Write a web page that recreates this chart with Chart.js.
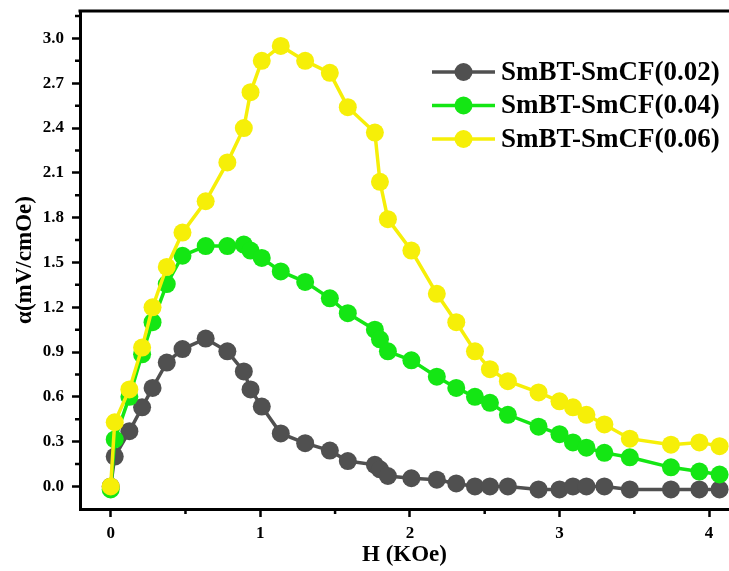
<!DOCTYPE html>
<html>
<head>
<meta charset="utf-8">
<title>ME coefficient vs H</title>
<script src="https://cdn.jsdelivr.net/npm/chart.js@4.4.0/dist/chart.umd.min.js"></script>
<style>
  html, body { margin: 0; padding: 0; background: #fff; }
  #chart { display: block; }
</style>
</head>
<body>
<canvas id="chart" width="729" height="571"></canvas>
<script>
// Field values (KOe), shared by all three samples
const H = [0, 0.027, 0.125, 0.21, 0.28, 0.375, 0.48, 0.635, 0.78, 0.89, 0.935, 1.01, 1.137, 1.30,
  1.465, 1.585, 1.766, 1.80, 1.853, 2.01, 2.18, 2.31, 2.435, 2.535, 2.655, 2.86, 3.0, 3.09,
  3.18, 3.30, 3.47, 3.745, 3.935, 4.07];

// alpha (mV/cmOe) for each sample
const alpha002 = [0, 0.20, 0.37, 0.53, 0.66, 0.83, 0.92, 0.99, 0.905, 0.77, 0.65, 0.535, 0.355, 0.29,
  0.24, 0.17, 0.145, 0.115, 0.07, 0.055, 0.045, 0.02, 0.0, 0.0, 0.0, -0.02, -0.02, 0.0,
  0.0, 0.0, -0.02, -0.02, -0.02, -0.02];
const alpha004 = [-0.02, 0.315, 0.60, 0.885, 1.10, 1.355, 1.545, 1.61, 1.61, 1.62, 1.58, 1.53, 1.44, 1.37,
  1.26, 1.16, 1.05, 0.985, 0.905, 0.845, 0.735, 0.66, 0.60, 0.56, 0.48, 0.40, 0.35, 0.295,
  0.26, 0.225, 0.195, 0.128, 0.10, 0.08];
const alpha006 = [0, 0.43, 0.65, 0.93, 1.20, 1.47, 1.70, 1.91, 2.17, 2.40, 2.64, 2.85, 2.95, 2.85,
  2.77, 2.54, 2.37, 2.04, 1.79, 1.58, 1.29, 1.10, 0.905, 0.785, 0.705, 0.63, 0.57, 0.53,
  0.48, 0.415, 0.32, 0.28, 0.295, 0.27];

const seriesLabels = ['SmBT-SmCF(0.02)', 'SmBT-SmCF(0.04)', 'SmBT-SmCF(0.06)'];
const seriesColors = ['#505050', '#14e614', '#f6ef08'];

// tick labels
const xMajorTicks = [0, 1, 2, 3, 4];
const xMinorTicks = [0.5, 1.5, 2.5, 3.5];
const yMajorTicks = [0, 0.3, 0.6, 0.9, 1.2, 1.5, 1.8, 2.1, 2.4, 2.7, 3.0];
const yMinorTicks = [0.15, 0.45, 0.75, 1.05, 1.35, 1.65, 1.95, 2.25, 2.55, 2.85, 3.15];

const SERIF = '"Liberation Serif", "Times New Roman", serif';

const toPoints = (vals) => H.map((h, i) => ({ x: h, y: vals[i] }));

const makeSet = (i, vals) => ({
  label: seriesLabels[i],
  data: toPoints(vals),
  borderColor: seriesColors[i],
  backgroundColor: seriesColors[i],
  pointBackgroundColor: seriesColors[i],
  pointBorderColor: seriesColors[i],
  pointRadius: 9,
  pointBorderWidth: 0,
  borderWidth: 3.5,
  tension: 0,
  showLine: true,
  order: 3 - i,
  clip: 12
});

// minor ticks, top frame line and the inside legend
const extras = {
  id: 'extras',
  afterDraw(chart) {
    const { ctx, chartArea, scales } = chart;
    ctx.save();
    ctx.strokeStyle = '#000';
    ctx.lineWidth = 2.5;
    ctx.beginPath();
    xMinorTicks.forEach(v => {
      const px = scales.x.getPixelForValue(v);
      ctx.moveTo(px, chartArea.bottom);
      ctx.lineTo(px, chartArea.bottom + 5);
    });
    yMinorTicks.forEach(v => {
      const py = scales.y.getPixelForValue(v);
      ctx.moveTo(chartArea.left, py);
      ctx.lineTo(chartArea.left - 5, py);
    });
    ctx.stroke();

    // top frame
    ctx.lineWidth = 3;
    ctx.beginPath();
    ctx.moveTo(chartArea.left - 1.5, chartArea.top);
    ctx.lineTo(chartArea.right, chartArea.top);
    ctx.stroke();

    // legend
    const lx0 = 432, lx1 = 495, ly0 = 72, step = 33.5;
    ctx.font = 'bold 27px ' + SERIF;
    ctx.textBaseline = 'middle';
    ctx.textAlign = 'left';
    seriesLabels.forEach((lab, i) => {
      const y = ly0 + i * step;
      ctx.strokeStyle = seriesColors[i];
      ctx.lineWidth = 3.5;
      ctx.beginPath();
      ctx.moveTo(lx0, y);
      ctx.lineTo(lx1, y);
      ctx.stroke();
      ctx.fillStyle = seriesColors[i];
      ctx.beginPath();
      ctx.arc((lx0 + lx1) / 2, y, 9, 0, Math.PI * 2);
      ctx.fill();
      ctx.fillStyle = '#000';
      ctx.fillText(lab, 501, y + 1);
    });
    ctx.restore();
  }
};

const ctx = document.getElementById('chart').getContext('2d');
new Chart(ctx, {
  type: 'scatter',
  data: {
    datasets: [makeSet(0, alpha002), makeSet(1, alpha004), makeSet(2, alpha006)]
  },
  options: {
    responsive: false,
    animation: false,
    devicePixelRatio: 1,
    layout: { autoPadding: false, padding: { top: 11, right: 0, bottom: 0, left: 0 } },
    plugins: {
      legend: { display: false },
      tooltip: { enabled: false }
    },
    scales: {
      x: {
        type: 'linear',
        min: -0.205,
        max: 4.133,
        afterBuildTicks: (scale) => { scale.ticks = xMajorTicks.map(v => ({ value: v })); },
        afterFit: (scale) => {
          scale.height = 62;
          scale.paddingLeft = 0;
          scale.paddingRight = 0;
        },
        ticks: {
          autoSkip: false,
          maxRotation: 0,
          padding: 6,
          color: '#000',
          font: { family: SERIF, size: 17, weight: 'bold' },
          callback: (v) => String(v)
        },
        grid: {
          drawOnChartArea: false,
          drawTicks: true,
          tickLength: 8,
          tickWidth: 2.5,
          tickColor: '#000'
        },
        border: { display: true, color: '#000', width: 3 },
        title: {
          display: true,
          text: 'H (KOe)',
          color: '#000',
          font: { family: SERIF, size: 23, weight: 'bold' },
          padding: { top: 0, bottom: 2 }
        }
      },
      y: {
        type: 'linear',
        min: -0.151,
        max: 3.184,
        afterBuildTicks: (scale) => { scale.ticks = yMajorTicks.map(v => ({ value: v })); },
        afterFit: (scale) => {
          scale.width = 80;
          scale.paddingTop = 0;
          scale.paddingBottom = 0;
        },
        ticks: {
          autoSkip: false,
          padding: 8,
          color: '#000',
          font: { family: SERIF, size: 17, weight: 'bold' },
          callback: (v) => Number(v).toFixed(1)
        },
        grid: {
          drawOnChartArea: false,
          drawTicks: true,
          tickLength: 8,
          tickWidth: 2.5,
          tickColor: '#000'
        },
        border: { display: true, color: '#000', width: 3 },
        title: {
          display: true,
          text: 'α(mV/cmOe)',
          color: '#000',
          font: { family: SERIF, size: 23, weight: 'bold' },
          padding: { top: 11, bottom: 0 }
        }
      }
    }
  },
  plugins: [extras]
});
</script>
</body>
</html>
